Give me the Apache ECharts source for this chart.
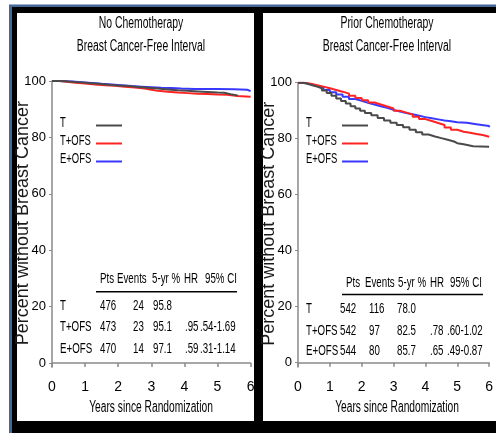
<!DOCTYPE html>
<html>
<head>
<meta charset="utf-8">
<script src="https://cdn.jsdelivr.net/npm/echarts@6/dist/echarts.min.js"></script>
<style>
  html, body { margin: 0; padding: 0; background: #fff; }
  #chart { width: 496px; height: 433px; }
</style>
</head>
<body>
<div id="chart"></div>
<script>
// ---- series identity ----
const seriesNames = ['T', 'T+OFS', 'E+OFS'];
const seriesColors = ['#4a4a4a', '#ff2323', '#3838ff'];

// ---- text ----
const noChemoTitle = ['No Chemotherapy', 'Breast Cancer-Free Interval'];
const priorChemoTitle = ['Prior Chemotherapy', 'Breast Cancer-Free Interval'];
const yAxisTitle = 'Percent without Breast Cancer';
const xAxisTitle = 'Years since Randomization';
const yTickValues = [0, 20, 40, 60, 80, 100];

// ---- Kaplan-Meier curves, [years, percent free of breast cancer] ----
const noChemoT = [[0,100],[0.25,99.8],[0.5,99.6],[0.8,99.3],[1.1,99.0],[1.4,98.7],[1.7,98.4],[2.0,98.2],[2.3,97.9],[2.6,97.6],[2.9,97.3],[3.2,97.0],[3.5,96.7],[3.8,96.5],[4.1,96.3],[4.4,96.1],[4.7,95.9],[5.0,95.8],[5.2,95.3],[5.4,94.9],[5.6,94.6]];
const noChemoTOFS = [[0,100],[0.2,99.7],[0.45,99.4],[0.7,99.1],[1.0,98.8],[1.3,98.5],[1.6,98.3],[1.9,98.0],[2.2,97.7],[2.5,97.3],[2.8,96.9],[3.0,96.5],[3.2,96.2],[3.5,95.9],[3.8,95.7],[4.1,95.5],[4.4,95.4],[4.7,95.2],[5.0,95.1],[5.3,94.7],[5.6,94.4],[6.0,94.3]];
const noChemoEOFS = [[0,100],[0.3,99.8],[0.6,99.6],[0.9,99.3],[1.2,99.0],[1.5,98.8],[1.8,98.5],[2.1,98.2],[2.4,98.0],[2.7,97.8],[3.0,97.6],[3.3,97.5],[3.6,97.3],[3.9,97.2],[4.3,97.15],[5.0,97.1],[5.5,96.9],[5.9,96.4],[6.0,96.4]];

const priorChemoT = [[0,100],[0.15,99.6],[0.3,99.1],[0.45,98.6],[0.6,98.0],[0.75,97.2],[0.9,96.3],[1.05,95.3],[1.2,94.4],[1.35,93.5],[1.5,92.6],[1.65,91.6],[1.8,90.8],[1.95,90.0],[2.1,89.2],[2.3,88.4],[2.5,87.4],[2.7,86.5],[2.9,85.7],[3.1,84.9],[3.3,84.1],[3.5,83.2],[3.7,82.3],[3.9,81.5],[4.1,80.8],[4.3,80.2],[4.5,79.6],[4.7,79.0],[4.9,78.4],[5.0,78.0],[5.2,77.3],[5.5,77.1],[6.0,77.1]];
const priorChemoTOFS = [[0,100],[0.2,99.6],[0.4,99.1],[0.6,98.6],[0.8,98.0],[1.0,97.4],[1.2,96.8],[1.4,96.1],[1.6,95.3],[1.8,94.5],[2.0,93.7],[2.2,92.9],[2.4,92.2],[2.6,91.5],[2.8,90.8],[3.0,90.0],[3.2,89.3],[3.4,88.6],[3.6,87.8],[3.8,87.0],[4.0,86.3],[4.2,85.6],[4.4,84.9],[4.6,84.0],[4.8,83.2],[5.0,82.5],[5.2,82.1],[5.4,81.7],[5.6,81.3],[5.8,80.7],[6.0,80.5]];
const priorChemoEOFS = [[0,100],[0.2,99.4],[0.4,98.8],[0.6,98.2],[0.8,97.4],[1.0,96.6],[1.2,95.8],[1.4,95.0],[1.6,94.2],[1.8,93.5],[2.0,92.8],[2.2,92.2],[2.4,91.6],[2.6,91.0],[2.8,90.3],[3.0,89.7],[3.2,89.2],[3.4,88.7],[3.6,88.2],[3.8,87.7],[4.0,87.3],[4.2,86.9],[4.4,86.5],[4.6,86.2],[4.8,85.9],[5.0,85.7],[5.3,85.2],[5.6,84.5],[6.0,84.1]];

// ---- summary tables ----
const tableHeader = ['Pts', 'Events', '5-yr %', 'HR', '95% CI'];
const noChemoRows = [
  ['T', '476', '24', '95.8', '', ''],
  ['T+OFS', '473', '23', '95.1', '.95', '.54-1.69'],
  ['E+OFS', '470', '14', '97.1', '.59', '.31-1.14']
];
const priorChemoRows = [
  ['T', '542', '116', '78.0', '', ''],
  ['T+OFS', '542', '97', '82.5', '.78', '.60-1.02'],
  ['E+OFS', '544', '80', '85.7', '.65', '.49-0.87']
];

const FONT = "'Liberation Sans', Arial, sans-serif";

// ---- panel layout ----
const panels = [
  {
    title: noChemoTitle, curves: [noChemoT, noChemoTOFS, noChemoEOFS], rows: noChemoRows,
    grid: { left: 52, top: 81, width: 198.6, height: 286.2 },
    titleX: 141, legendTextX: 60, legendIconX: 96, yNameX: 23,
    headX: [100, 117, 152, 184, 205], headY: 279,
    cellX: [60, 100, 133, 153, 185, 200], rowY: [305.5, 327, 348.5],
    rule: [96, 237, 291.7], xNameX: 151
  },
  {
    title: priorChemoTitle, curves: [priorChemoT, priorChemoTOFS, priorChemoEOFS], rows: priorChemoRows,
    grid: { left: 298, top: 82.7, width: 198.6, height: 284.2 },
    titleX: 387, legendTextX: 306, legendIconX: 342, yNameX: 269,
    headX: [346, 365, 398, 430, 450], headY: 283,
    cellX: [306, 340, 369, 397, 430, 447], rowY: [309, 330.5, 350.5],
    rule: [342, 483, 294.5], xNameX: 397
  }
];
const legendRowY = [124, 142, 160];

// condensed text: regular face squeezed horizontally about its anchor
function squeezedText(str, x, y, size, squeeze, align) {
  return {
    type: 'text', x: x, y: y, scaleX: squeeze, z: 20,
    style: {
      text: str, fill: '#000', fontSize: size, fontFamily: FONT,
      textAlign: align || 'left', textVerticalAlign: 'middle'
    }
  };
}

const grids = [], xAxes = [], yAxes = [], series = [], legends = [];
const graphics = [
  // outer frame
  { type: 'rect', z: -20, shape: { x: 9, y: 4, width: 487, height: 429 }, style: { fill: '#45679a' } },
  { type: 'rect', z: -19, shape: { x: 9, y: 4, width: 487, height: 1 }, style: { fill: '#9db0cc' } },
  { type: 'rect', z: -18, shape: { x: 12, y: 7, width: 484, height: 426 }, style: { fill: '#000' } },
  { type: 'rect', z: -17, shape: { x: 17, y: 13, width: 237, height: 408 }, style: { fill: '#fff' } },
  { type: 'rect', z: -17, shape: { x: 263, y: 13, width: 233, height: 408 }, style: { fill: '#fff' } }
];

panels.forEach(function (p, i) {
  grids.push(Object.assign({ containLabel: false }, p.grid));
  xAxes.push({
    type: 'value', gridIndex: i, min: 0, max: 6, interval: 1,
    axisLine: { lineStyle: { color: '#8a8a8a', width: 1.5 } },
    axisTick: { show: true, inside: false, length: 4, lineStyle: { color: '#8a8a8a', width: 1.5 } },
    axisLabel: { color: '#000', fontSize: 14, fontFamily: FONT, margin: 13 },
    splitLine: { show: false }
  });
  yAxes.push({
    type: 'value', gridIndex: i, min: -1.5, max: 100,
    axisLine: { show: true, lineStyle: { color: '#8a8a8a', width: 1.5 } },
    axisTick: { show: true, inside: false, length: 3, customValues: yTickValues, lineStyle: { color: '#8a8a8a', width: 1 } },
    axisLabel: { color: '#000', fontSize: 13, fontFamily: FONT, margin: 6, customValues: yTickValues },
    splitLine: { show: false }
  });
  p.curves.forEach(function (data, k) {
    series.push({
      name: seriesNames[k], type: 'line', step: 'end', xAxisIndex: i, yAxisIndex: i,
      data: data, showSymbol: false, symbol: 'none',
      lineStyle: { color: seriesColors[k], width: 2 }, itemStyle: { color: seriesColors[k] },
      z: 3 + (2 - k)
    });
  });
  // legend swatches; the labels are set as condensed text beside them
  legends.push({
    data: seriesNames, orient: 'vertical', left: p.legendIconX, top: legendRowY[0] + 0.5, padding: 0,
    icon: 'rect', itemWidth: 26, itemHeight: 2, itemGap: 16, selectedMode: false,
    formatter: function () { return ''; },
    textStyle: { fontSize: 1, lineHeight: 1 }
  });
  seriesNames.forEach(function (name, k) {
    graphics.push(squeezedText(name, p.legendTextX, legendRowY[k] - 1, 15, 0.63));
  });

  // y axis title, reading upward along the axis
  graphics.push({
    type: 'text', x: p.yNameX, y: p.grid.top + p.grid.height / 2 - 1, rotation: Math.PI / 2, z: 20,
    style: {
      text: yAxisTitle, fill: '#1a1a1a', fontSize: 18, fontFamily: FONT,
      textAlign: 'center', textVerticalAlign: 'middle'
    }
  });
  // panel titles
  graphics.push(squeezedText(p.title[0], p.titleX, 24, 16, 0.65, 'center'));
  graphics.push(squeezedText(p.title[1], p.titleX, 47, 16, 0.65, 'center'));
  // x axis title
  graphics.push(squeezedText(xAxisTitle, p.xNameX, 408, 16, 0.64, 'center'));
  // table header, rule and rows
  tableHeader.forEach(function (h, c) {
    graphics.push(squeezedText(h, p.headX[c], p.headY, 14.5, 0.67));
  });
  graphics.push({
    type: 'line', z: 20,
    shape: { x1: p.rule[0], y1: p.rule[2], x2: p.rule[1], y2: p.rule[2] },
    style: { stroke: '#000', lineWidth: 1.5 }
  });
  p.rows.forEach(function (row, r) {
    row.forEach(function (cell, c) {
      if (cell) graphics.push(squeezedText(cell, p.cellX[c], p.rowY[r], 14.5, 0.67));
    });
  });
});

const chart = echarts.init(document.getElementById('chart'), null, { renderer: 'canvas' });
chart.setOption({
  backgroundColor: '#fff',
  animation: false,
  grid: grids,
  xAxis: xAxes,
  yAxis: yAxes,
  legend: legends,
  series: series,
  graphic: { elements: graphics }
});
</script>
</body>
</html>
